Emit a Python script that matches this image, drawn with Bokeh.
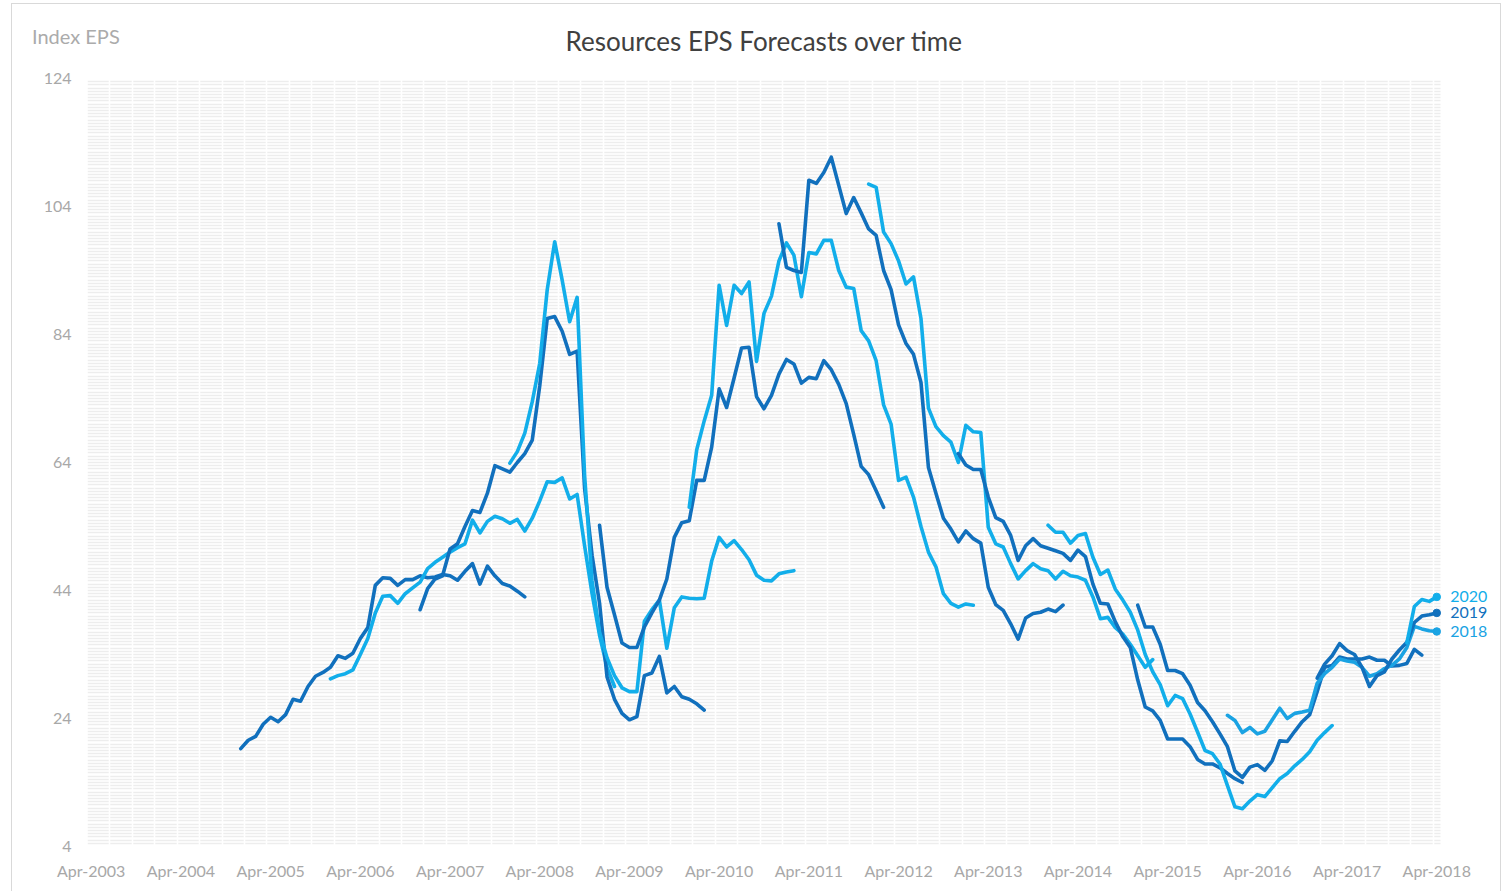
from bokeh.plotting import figure
from bokeh.models import Range1d, FixedTicker, Label, Grid, BoxAnnotation, Div
from bokeh.embed import file_html
from bokeh.resources import INLINE

# ---------------- data ----------------
x_tick_labels = ["Apr-2003", "Apr-2004", "Apr-2005", "Apr-2006", "Apr-2007", "Apr-2008",
                 "Apr-2009", "Apr-2010", "Apr-2011", "Apr-2012", "Apr-2013", "Apr-2014",
                 "Apr-2015", "Apr-2016", "Apr-2017", "Apr-2018"]
y_ticks = [4, 24, 44, 64, 84, 104, 124]

fiscal_years = [2007, 2008, 2009, 2010, 2011, 2012, 2013, 2014, 2015, 2016, 2017, 2018, 2019, 2020]
first_month = ["Dec-2004", "Dec-2005", "Dec-2006", "Dec-2007", "Dec-2008", "Dec-2009", "Dec-2010",
               "Dec-2011", "Dec-2012", "Dec-2013", "Dec-2014", "Dec-2015", "Dec-2016", "Dec-2017"]

eps_fy2007 = [19.3, 20.6, 21.2, 23.1, 24.2, 23.5, 24.6, 27.0, 26.7, 29.0, 30.6, 31.2, 32.0, 33.8, 33.4,
              34.2, 36.5, 38.2, 44.8, 46.0, 45.9, 44.8, 45.7, 45.7, 46.3, 46.0, 46.1, 46.5, 46.3, 45.6,
              47.0, 48.2, 45.0, 47.8, 46.3, 45.1, 44.7, 43.9, 43.0]
eps_fy2008 = [30.2, 30.7, 31.0, 31.6, 34.0, 36.5, 40.5, 43.1, 43.2, 42.0, 43.5, 44.4, 45.3, 47.4, 48.4,
              49.2, 50.0, 50.7, 51.3, 55.0, 53.0, 54.8, 55.6, 55.2, 54.5, 55.1, 53.3, 55.3, 58.0, 61.0,
              60.9, 61.6, 58.3, 59.0, 51.0, 43.5, 37.0, 32.0, 29.0]
eps_fy2009 = [41.0, 44.3, 45.8, 46.3, 50.5, 51.3, 54.0, 56.5, 56.2, 59.2, 63.5, 63.0, 62.5, 64.0, 65.4,
              67.5, 76.0, 86.5, 86.8, 84.5, 80.9, 81.4, 60.0, 49.5, 42.0, 30.5, 27.0, 24.8, 23.8, 24.3,
              30.7, 31.1, 33.7, 28.0, 29.0, 27.4, 27.0, 26.3, 25.3]
eps_fy2010 = [63.9, 65.7, 68.6, 73.5, 79.5, 91.0, 98.5, 92.5, 86.0, 89.8, 62.0, 45.5, 37.5, 33.5, 30.7,
              28.8, 28.2, 28.2, 39.2, 41.0, 42.5, 35.0, 41.3, 43.0, 42.8, 42.7, 42.8, 48.6, 52.3, 50.8,
              51.8, 50.4, 48.8, 46.4, 45.6, 45.5, 46.6, 46.9, 47.1]
eps_fy2011 = [54.2, 44.5, 40.2, 35.8, 35.1, 35.1, 38.3, 40.5, 42.5, 45.8, 52.3, 54.6, 54.9, 61.2, 61.2,
              66.4, 75.5, 72.6, 77.2, 81.9, 82.0, 74.3, 72.4, 74.5, 77.8, 80.1, 79.4, 76.4, 77.3, 77.1,
              79.9, 78.5, 76.2, 73.2, 68.4, 63.4, 62.1, 59.6, 57.0]
eps_fy2012 = [57.0, 66.0, 70.5, 74.5, 91.7, 85.4, 91.7, 90.4, 92.2, 79.8, 87.3, 90.0, 95.5, 98.3, 96.4,
              89.9, 96.8, 96.6, 98.7, 98.7, 94.0, 91.4, 91.2, 84.6, 83.0, 79.9, 73.0, 70.0, 61.2, 61.7,
              58.6, 54.0, 50.0, 47.7, 43.5, 42.0, 41.4, 41.9, 41.7]
eps_fy2013 = [101.3, 94.5, 94.0, 93.7, 108.1, 107.6, 109.3, 111.7, 107.3, 102.9, 105.4, 103.0, 100.5,
              99.5, 94.0, 91.0, 85.5, 82.6, 80.9, 76.5, 63.2, 59.2, 55.3, 53.6, 51.6, 53.3, 52.1, 51.4,
              44.5, 41.8, 40.9, 38.8, 36.4, 39.7, 40.4, 40.6, 41.1, 40.7, 41.7]
eps_fy2014 = [107.5, 107.0, 100.0, 98.2, 95.5, 91.9, 93.0, 86.5, 72.5, 69.6, 68.2, 67.2, 64.0, 69.8,
              68.8, 68.7, 53.9, 51.3, 50.8, 48.2, 45.8, 47.1, 48.2, 47.4, 47.1, 45.8, 47.0, 46.3, 46.1,
              45.6, 43.0, 39.6, 39.8, 38.2, 37.2, 35.6, 33.8, 32.0, 33.2]
eps_fy2015 = [65.4, 63.6, 62.9, 62.9, 58.6, 55.4, 54.8, 52.6, 48.7, 51.0, 52.1, 51.0, 50.6, 50.2, 49.8,
              48.7, 50.3, 49.3, 45.0, 42.0, 41.9, 39.1, 36.8, 35.1, 30.0, 25.8, 25.2, 23.7, 20.8, 20.8,
              20.8, 19.6, 17.6, 16.9, 16.9, 16.3, 15.4, 14.6, 14.0]
eps_fy2016 = [54.2, 53.1, 53.1, 51.4, 52.6, 52.9, 49.2, 46.5, 47.2, 44.2, 42.5, 40.6, 37.8, 34.0, 31.3,
              29.3, 26.0, 27.6, 27.1, 24.7, 21.9, 19.0, 18.5, 16.9, 13.5, 10.2, 9.9, 11.1, 12.1, 11.8,
              13.2, 14.6, 15.4, 16.6, 17.6, 18.8, 20.6, 21.8, 22.9]
eps_fy2017 = [41.7, 38.3, 38.3, 35.6, 31.5, 31.5, 31.0, 29.2, 26.5, 25.2, 23.5, 21.6, 19.6, 15.8, 14.8,
              16.4, 16.8, 15.9, 17.4, 20.5, 20.4, 22.0, 23.5, 24.6, 28.2, 32.0, 32.3, 33.6, 33.3, 33.3,
              33.3, 33.6, 33.1, 33.1, 32.2, 32.3, 32.6, 34.8, 33.9]
eps_fy2018 = [24.5, 23.7, 21.8, 22.6, 21.6, 22.0, 23.8, 25.6, 24.0, 24.8, 25.0, 25.3, 29.5, 31.0, 32.0,
              33.3, 33.0, 32.8, 32.0, 30.6, 31.0, 31.8, 32.3, 33.3, 35.1, 38.4, 38.0, 37.7, 37.6]
eps_fy2019 = [30.3, 32.5, 33.8, 35.7, 34.6, 34.0, 32.0, 29.0, 30.7, 31.3, 33.3, 34.7, 35.9, 39.0, 40.0,
              40.2, 40.5]
eps_fy2020 = [35.8, 41.5, 42.6, 42.3, 43.0]

all_series = [eps_fy2007, eps_fy2008, eps_fy2009, eps_fy2010, eps_fy2011, eps_fy2012, eps_fy2013,
              eps_fy2014, eps_fy2015, eps_fy2016, eps_fy2017, eps_fy2018, eps_fy2019, eps_fy2020]
labelled_years = [2020, 2019, 2018]

# ---------------- styling ----------------
DARK = "#1170BD"
LIGHT = "#12AEEA"
MID = "#1AA3E3"
FONT = "Lato"
MONTHS = ["Jan", "Feb", "Mar", "Apr", "May", "Jun", "Jul", "Aug", "Sep", "Oct", "Nov", "Dec"]

X0, X_END = -0.5, 180.5           # gridded plotting area (month slots Apr-2003 .. Apr-2018)
X1 = X_END + 60 * (X_END - X0) / 1353   # frame continues (ungridded) to the right for the labels
Y0, Y1 = 4, 124


def month_index(label):
    mon, yr = label.split("-")
    return (int(yr) - 2003) * 12 + MONTHS.index(mon) - 3


def color_for(year):
    if year == 2018:
        return MID
    return DARK if (year - 2007) % 2 == 0 else LIGHT


p = figure(width=1488, height=887,
           x_range=Range1d(X0, X1), y_range=Range1d(Y0, Y1),
           output_backend="svg", toolbar_location=None,
           min_border_left=75, min_border_right=0, min_border_top=74, min_border_bottom=45)
p.styles = {"position": "absolute", "left": "12px", "top": "4px", "outline": "1px solid #D9D9D9"}
p.outline_line_color = None
p.background_fill_color = "white"
p.border_fill_color = "white"

# title
p.title.text = "Resources EPS Forecasts over time"
p.title.align = "left"
p.title.offset = 478
p.title.vertical_align = "top"
p.title.text_font = FONT
p.title.text_font_size = "26px"
p.title.text_font_style = "normal"
p.title.text_color = "#404040"
p.title.standoff = 40

# grids: dense light horizontal lines, white quarterly vertical lines on top
p.xgrid.visible = False
p.ygrid.ticker = FixedTicker(ticks=[4 + 0.5 * j for j in range(241)])
p.ygrid.grid_line_color = "#EDEDED"
p.ygrid.grid_line_width = 1.6
vgrid = Grid(dimension=0, ticker=FixedTicker(ticks=[-0.5 + 3 * j for j in range(61)]),
             grid_line_color="white", grid_line_width=1.6)
p.add_layout(vgrid, "center")
# the strip right of the last month slot is plain white (label area)
p.add_layout(BoxAnnotation(left=X_END, fill_color="white", fill_alpha=1.0,
                           line_alpha=0, level="underlay"))

# axes
p.xaxis.ticker = FixedTicker(ticks=[12 * i for i in range(len(x_tick_labels))])
p.xaxis.major_label_overrides = {12 * i: lab for i, lab in enumerate(x_tick_labels)}
p.yaxis.ticker = FixedTicker(ticks=y_ticks)
for ax in (p.xaxis[0], p.yaxis[0]):
    ax.axis_line_color = None
    ax.major_tick_line_color = None
    ax.minor_tick_line_color = None
    ax.major_tick_out = 0
    ax.major_tick_in = 0
    ax.major_label_text_font = FONT
    ax.major_label_text_font_size = "16px"
    ax.major_label_text_color = "#A8A8A8"
p.xaxis.major_label_standoff = 14
p.yaxis.major_label_standoff = 16

# series
for year, start, vals in zip(fiscal_years, first_month, all_series):
    m0 = month_index(start)
    xs = [m0 + i for i in range(len(vals))]
    p.line(xs, vals, line_color=color_for(year), line_width=3.6, line_join="round", line_cap="round")
    if year in labelled_years:
        p.scatter([xs[-1]], [vals[-1]], size=7.5, color=color_for(year))
        p.add_layout(Label(x=xs[-1] + 1.8, y=vals[-1], text=str(year), text_font=FONT,
                           text_font_size="16px", text_color=color_for(year),
                           text_align="left", text_baseline="middle"))

# y-axis caption, top left
caption = Div(text="Index EPS", width=120, height=24,
              styles={"position": "absolute", "left": "27px", "top": "19px",
                      "font-family": FONT, "font-size": "20px", "color": "#ABABAB",
                      "white-space": "nowrap", "line-height": "24px"})

open("out.html", "w").write(file_html([p, caption], INLINE))
